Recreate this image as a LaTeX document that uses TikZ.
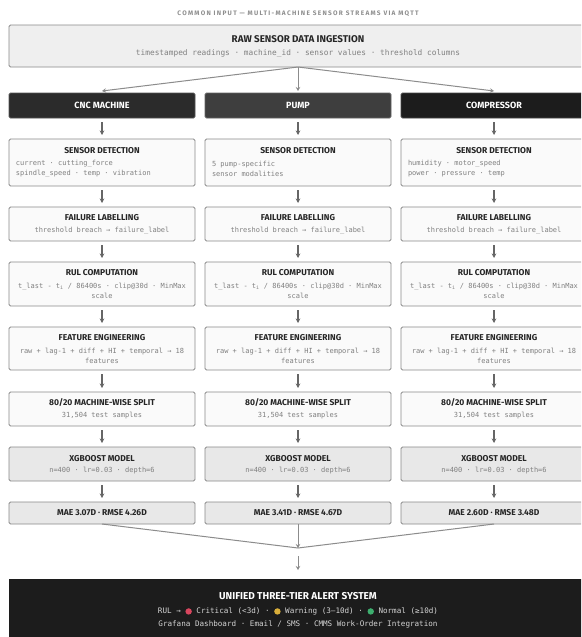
\documentclass[tikz,border=0pt]{standalone}
\usepackage{fontspec}
\setmainfont{Fira Sans}
\setmonofont{DejaVu Sans Mono}
\usetikzlibrary{arrows.meta}
\definecolor{boxline}{HTML}{8A8A8A}
\definecolor{boxfill}{HTML}{FAFAFA}
\definecolor{topfill}{HTML}{EFEFEF}
\definecolor{graybox}{HTML}{E8E8E8}
\definecolor{titlec}{HTML}{262626}
\definecolor{bodyc}{HTML}{808080}
\definecolor{arrc}{HTML}{666666}
\definecolor{linec}{HTML}{8C8C8C}
\definecolor{hdrcnc}{HTML}{2B2B2B}
\definecolor{hdrpump}{HTML}{3E3E3E}
\definecolor{hdrcomp}{HTML}{1C1C1C}
\definecolor{alertbg}{HTML}{1C1C1C}
\definecolor{alerttxt}{HTML}{D4D4D4}
\definecolor{dotred}{HTML}{D8465E}
\definecolor{dotyel}{HTML}{D9AE3A}
\definecolor{dotgrn}{HTML}{3DAE6E}
\definecolor{capc}{HTML}{8E8E8E}
\newcommand\alertdot[1]{\tikz[baseline=-0.4ex]\fill[#1] (0,0) circle (3.2pt);}
\tikzset{
  every node/.style={inner sep=0pt, outer sep=0pt},
  box/.style={draw=boxline, line width=0.8pt, rounded corners=1.5pt, fill=boxfill},
  gbox/.style={box, fill=graybox},
  hdr/.style={draw=#1!80!white, line width=0.8pt, rounded corners=1.5pt, fill=#1, minimum width=186pt, minimum height=25pt},
  hdrt/.style={font=\bfseries\fontsize{9}{11}\selectfont, text=white},
  ttl/.style={font=\bfseries\fontsize{8.5}{10}\selectfont, text=titlec},
  body/.style={font=\ttfamily\fontsize{7}{10}\selectfont, text=bodyc},
  arr/.style={-{Stealth[length=4.5pt,width=4.5pt]}, draw=arrc, line width=1.1pt},
  thinarr/.style={-{Stealth[length=4pt,width=4.5pt]}, draw=linec, line width=1pt},
  thinline/.style={draw=linec, line width=1pt},
}
\newcommand\machcol[6]{%
  \node[hdr=#3] (#1h) at (#2,105.5) {};
  \node[hdrt] (#1ht) at (#2,105.5) {#4};
  % sensor detection
  \node[box, minimum width=186pt, minimum height=47pt] (#1s) at (#2,162.5) {};
  \node[ttl] (#1st) at (#2,151) {SENSOR DETECTION};
  \node[body, anchor=west, align=left] (#1sb) at ({#2-86},168.5) {#5};
  % failure labelling
  \node[box, minimum width=186pt, minimum height=34pt] (#1f) at (#2,224) {};
  \node[ttl] (#1ft) at (#2,218) {FAILURE LABELLING};
  \node[body] (#1fb) at (#2,230.5) {threshold breach → failure\_label};
  % RUL
  \node[box, minimum width=186pt, minimum height=44pt] (#1r) at (#2,284) {};
  \node[ttl] (#1rt) at (#2,273) {RUL COMPUTATION};
  \node[body, align=center] (#1rb) at (#2,290.5) {t\_last - t\textsubscript{i} / 86400s · clip@30d · MinMax\\scale};
  % feature engineering
  \node[box, minimum width=186pt, minimum height=43pt] (#1e) at (#2,348.5) {};
  \node[ttl] (#1et) at (#2,338) {FEATURE ENGINEERING};
  \node[body, align=center] (#1eb) at (#2,355.5) {raw + lag-1 + diff + HI + temporal → 18\\features};
  % split
  \node[box, minimum width=186pt, minimum height=34pt] (#1p) at (#2,409) {};
  \node[ttl] (#1pt) at (#2,403) {80/20 MACHINE-WISE SPLIT};
  \node[body] (#1pb) at (#2,415.5) {31,504 test samples};
  % xgboost
  \node[gbox, minimum width=186pt, minimum height=34pt] (#1x) at (#2,464) {};
  \node[ttl] (#1xt) at (#2,459) {XGBOOST MODEL};
  \node[body] (#1xb) at (#2,470.5) {n=400 · lr=0.03 · depth=6};
  % MAE
  \node[gbox, minimum width=186pt, minimum height=22pt] (#1m) at (#2,513) {};
  \node[ttl] (#1mt) at (#2,513) {#6};
  % arrows
  \draw[arr] ([yshift=-4pt]#1h.south) -- ([yshift=4pt]#1s.north);
  \draw[arr] ([yshift=-4pt]#1s.south) -- ([yshift=4pt]#1f.north);
  \draw[arr] ([yshift=-4pt]#1f.south) -- ([yshift=4pt]#1r.north);
  \draw[arr] ([yshift=-4pt]#1r.south) -- ([yshift=4pt]#1e.north);
  \draw[arr] ([yshift=-4pt]#1e.south) -- ([yshift=4pt]#1p.north);
  \draw[arr] ([yshift=-4pt]#1p.south) -- ([yshift=4pt]#1x.north);
  \draw[arr] ([yshift=-4pt]#1x.south) -- ([yshift=4pt]#1m.north);
}
\begin{document}
\begin{tikzpicture}[x=1pt, y=-1pt]
\useasboundingbox (0,0) rectangle (581,637);
\fill[white] (0,0) rectangle (581,637);
\clip (0,0) rectangle (581,637);
% caption
\node[font=\bfseries\fontsize{6.5}{8}\selectfont\addfontfeature{LetterSpace=20}, text=capc] (cap) at (298,14) {COMMON INPUT — MULTI-MACHINE SENSOR STREAMS VIA MQTT};
% top box
\node[box, fill=topfill, minimum width=578pt, minimum height=42pt] (top) at (298,46) {};
\node[font=\bfseries\fontsize{9.8}{11}\selectfont, text=titlec] (topt) at (298,39) {RAW SENSOR DATA INGESTION};
\node[body, font=\ttfamily\fontsize{7.8}{10}\selectfont] (topb) at (298,53.5) {timestamped readings · machine\_id · sensor values · threshold columns};
% columns
\machcol{cnc}{102}{hdrcnc}{CNC MACHINE}{current · cutting\_force\\spindle\_speed · temp · vibration}{MAE 3.07D · RMSE 4.26D}
\machcol{pump}{298}{hdrpump}{PUMP}{5 pump-specific\\sensor modalities}{MAE 3.41D · RMSE 4.67D}
\machcol{comp}{494}{hdrcomp}{COMPRESSOR}{humidity · motor\_speed\\power · pressure · temp}{MAE 2.60D · RMSE 3.48D}
% fan-out
\draw[thinarr] (top.south) -- ([yshift=2pt]cnch.north);
\draw[thinarr] (top.south) -- ([yshift=2pt]pumph.north);
\draw[thinarr] (top.south) -- ([yshift=2pt]comph.north);
% fan-in
\coordinate (merge) at (298,548);
\draw[thinline] (cncm.south) -- (merge);
\draw[thinline] (compm.south) -- (merge);
\draw[thinarr] (pumpm.south) -- (merge);
% alert box
\node[fill=alertbg, minimum width=578pt, minimum height=92pt] (alert) at (298,625) {};
\draw[thinarr] ([yshift=-8pt]merge) -- ([yshift=9pt]alert.north);
\node[font=\bfseries\fontsize{10}{12}\selectfont, text=white] (alertt) at (298,596) {UNIFIED THREE-TIER ALERT SYSTEM};
\node[font=\ttfamily\fontsize{7.6}{10}\selectfont, text=alerttxt] (alertl1) at (298,611) {RUL → \alertdot{dotred} Critical (<3d) · \alertdot{dotyel} Warning (3–10d) · \alertdot{dotgrn} Normal (≥10d)};
\node[font=\ttfamily\fontsize{7.6}{10}\selectfont, text=alerttxt] (alertl2) at (298,624) {Grafana Dashboard · Email / SMS · CMMS Work-Order Integration};
\end{tikzpicture}
\end{document}
